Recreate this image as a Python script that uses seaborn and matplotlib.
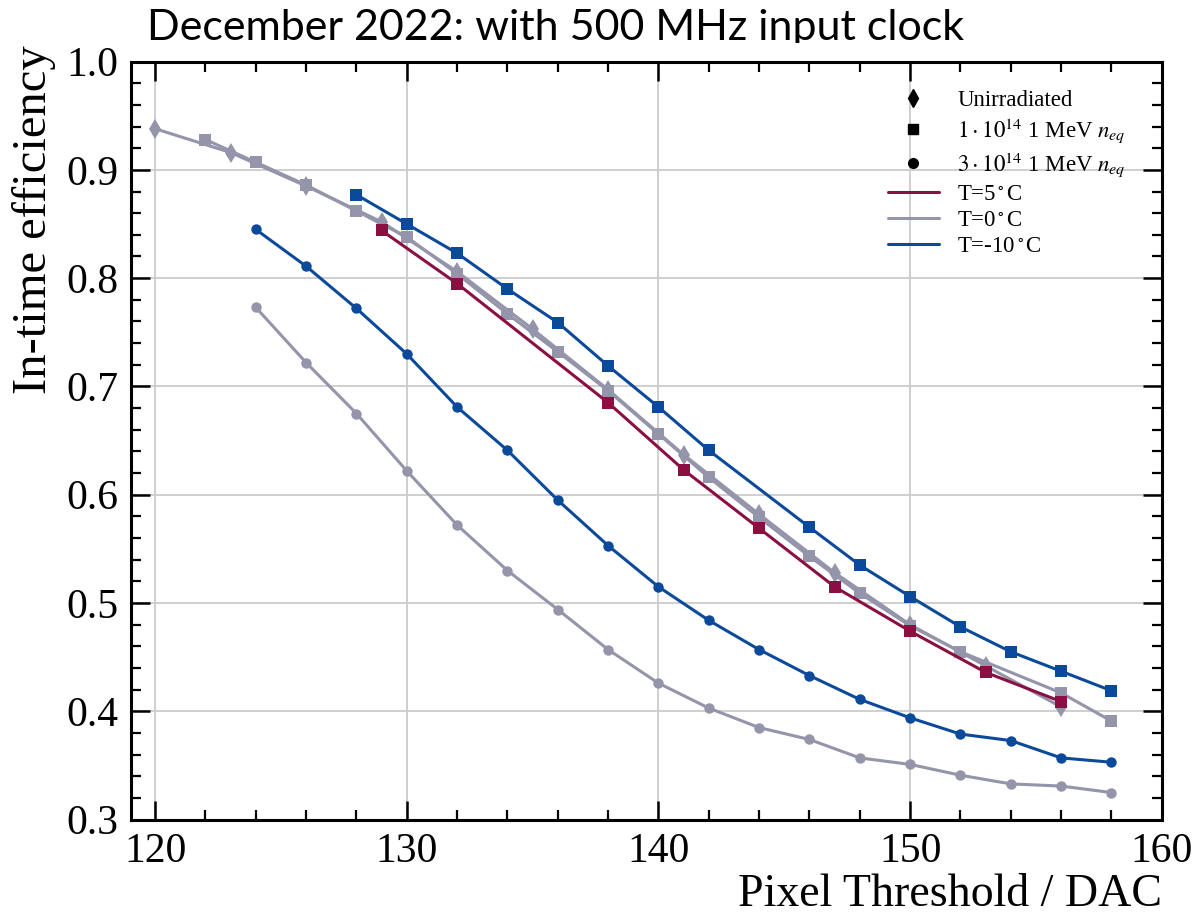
import numpy as np
import pandas as pd
import matplotlib
matplotlib.use("Agg")
import matplotlib.pyplot as plt
from matplotlib.lines import Line2D
from matplotlib.transforms import Bbox, TransformedBbox
import seaborn as sns

# ---------------- data ----------------
# Unirradiated, T=0 C (diamonds)
unirr_x = [120, 123, 126, 129, 132, 135, 138, 141, 144, 147, 150, 153, 156]
unirr_y = [0.938, 0.916, 0.885, 0.852, 0.806, 0.753, 0.697, 0.637, 0.582, 0.528, 0.480, 0.442, 0.404]

# 1e14 neq, T=0 C (squares)
f1_t0_x = [122, 124, 126, 128, 130, 132, 134, 136, 138, 140, 142, 144, 146, 148, 150, 152, 156, 158]
f1_t0_y = [0.928, 0.907, 0.886, 0.862, 0.838, 0.804, 0.767, 0.732, 0.696, 0.656, 0.616, 0.579, 0.543,
           0.509, 0.479, 0.455, 0.417, 0.391]

# 1e14 neq, T=5 C (squares)
f1_t5_x = [129, 132, 138, 141, 144, 147, 150, 153, 156]
f1_t5_y = [0.844, 0.795, 0.685, 0.623, 0.569, 0.515, 0.474, 0.436, 0.409]

# 1e14 neq, T=-10 C (squares)
f1_tm10_x = [128, 130, 132, 134, 136, 138, 140, 142, 146, 148, 150, 152, 154, 156, 158]
f1_tm10_y = [0.877, 0.850, 0.823, 0.790, 0.759, 0.719, 0.681, 0.641, 0.570, 0.535, 0.506, 0.478,
             0.455, 0.437, 0.419]

# 3e14 neq, T=-10 C (circles)
f3_tm10_x = [124, 126, 128, 130, 132, 134, 136, 138, 140, 142, 144, 146, 148, 150, 152, 154, 156, 158]
f3_tm10_y = [0.845, 0.811, 0.772, 0.730, 0.681, 0.641, 0.595, 0.553, 0.515, 0.484, 0.457, 0.433,
             0.411, 0.394, 0.379, 0.373, 0.357, 0.353]

# 3e14 neq, T=0 C (circles)
f3_t0_x = [124, 126, 128, 130, 132, 134, 136, 138, 140, 142, 144, 146, 148, 150, 152, 154, 156, 158]
f3_t0_y = [0.773, 0.722, 0.675, 0.622, 0.572, 0.530, 0.494, 0.457, 0.426, 0.403, 0.385, 0.374,
           0.357, 0.351, 0.341, 0.333, 0.331, 0.325]

x_ticks = [120, 130, 140, 150, 160]
y_ticks = [0.3, 0.4, 0.5, 0.6, 0.7, 0.8, 0.9, 1.0]

fluence_labels = ["Unirradiated", r"$1\cdot10^{14}$ 1 MeV $n_{eq}$", r"$3\cdot10^{14}$ 1 MeV $n_{eq}$"]
temp_labels = [r"T=5$^\circ$C", r"T=0$^\circ$C", r"T=-10$^\circ$C"]

title_text = "December 2022: with 500 MHz input clock"
xlabel_text = "Pixel Threshold / DAC"
ylabel_text = "In-time efficiency"

# ---------------- style ----------------
C_RED = "#8c0f42"
C_GRAY = "#9494aa"
C_BLUE = "#0b4a9b"

sns.set_theme(style="ticks")
plt.rcParams["font.family"] = ["Liberation Serif", "DejaVu Serif"]
plt.rcParams["mathtext.fontset"] = "stix"
plt.rcParams["text.color"] = "black"
plt.rcParams["axes.labelcolor"] = "black"
plt.rcParams["xtick.labelcolor"] = "black"
plt.rcParams["ytick.labelcolor"] = "black"

fig = plt.figure(figsize=(11.99, 9.16), dpi=100)
ax = fig.add_axes([0.109, 0.1052, 0.860, 0.8276])

LW = 2.2
MS = 8

series = [
    (unirr_x, unirr_y, C_GRAY, "d", MS + 2),
    (f3_t0_x, f3_t0_y, C_GRAY, "o", MS - 0.5),
    (f3_tm10_x, f3_tm10_y, C_BLUE, "o", MS - 0.5),
    (f1_t0_x, f1_t0_y, C_GRAY, "s", MS),
    (f1_t5_x, f1_t5_y, C_RED, "s", MS),
    (f1_tm10_x, f1_tm10_y, C_BLUE, "s", MS),
]
for i, (xs, ys, col, mk, ms) in enumerate(series):
    df = pd.DataFrame({"x": xs, "y": ys})
    sns.lineplot(data=df, x="x", y="y", ax=ax, color=col, marker=mk, markersize=ms,
                 markeredgewidth=0, linewidth=LW, sort=False, legend=False, zorder=3 + i)

ax.set_xlim(119.03, 160)
ax.set_ylim(0.3, 1.0)
ax.set_xticks(x_ticks)
ax.set_yticks(y_ticks)
ax.set_xticklabels([str(v) for v in x_ticks])
ax.set_yticklabels([f"{v:.1f}" for v in y_ticks])
ax.xaxis.set_minor_locator(matplotlib.ticker.MultipleLocator(2))
ax.yaxis.set_minor_locator(matplotlib.ticker.MultipleLocator(0.02))

ax.grid(True, which="major", color="#cccccc", linewidth=1.3, zorder=0)
ax.set_axisbelow(True)

for sp in ax.spines.values():
    sp.set_linewidth(2.2)
    sp.set_color("black")

ax.tick_params(which="major", direction="in", length=14, width=1.8, top=True, right=True,
               labelsize=30, pad=9, color="black", labelcolor="black")
ax.tick_params(which="minor", direction="in", length=7.5, width=1.6, top=True, right=True,
               color="black")

ax.set_xlabel(xlabel_text, fontsize=33, loc="right", color="black")
ax.set_ylabel(ylabel_text, fontsize=35, loc="top", color="black")
ax.xaxis.set_label_coords(1.0, -0.071)
ax.yaxis.set_label_coords(-0.072, 1.022)

# legend
handles = [
    Line2D([], [], color="black", marker="d", linestyle="none", markersize=MS + 1),
    Line2D([], [], color="black", marker="s", linestyle="none", markersize=MS - 1),
    Line2D([], [], color="black", marker="o", linestyle="none", markersize=MS - 1),
    Line2D([], [], color=C_RED, linewidth=LW),
    Line2D([], [], color=C_GRAY, linewidth=LW),
    Line2D([], [], color=C_BLUE, linewidth=LW),
]
ax.legend(handles, fluence_labels + temp_labels, loc="upper left",
          bbox_to_anchor=(0.734, 0.962), frameon=False, fontsize=16.5,
          borderpad=0, borderaxespad=0, labelspacing=0.22, handlelength=2.25,
          handletextpad=0.8, labelcolor="black")

# title (clipped at the bottom like the reference)
t = fig.text(0.463, 0.956, title_text, ha="center", va="baseline", fontsize=31,
             family=["Lato", "DejaVu Sans"], color="black")
clipbox = TransformedBbox(Bbox([[0.0, 0.953], [1.0, 1.0]]), fig.transFigure)
t.set_clip_box(clipbox)
t.set_clip_on(True)

fig.savefig("out.png", dpi=100)
